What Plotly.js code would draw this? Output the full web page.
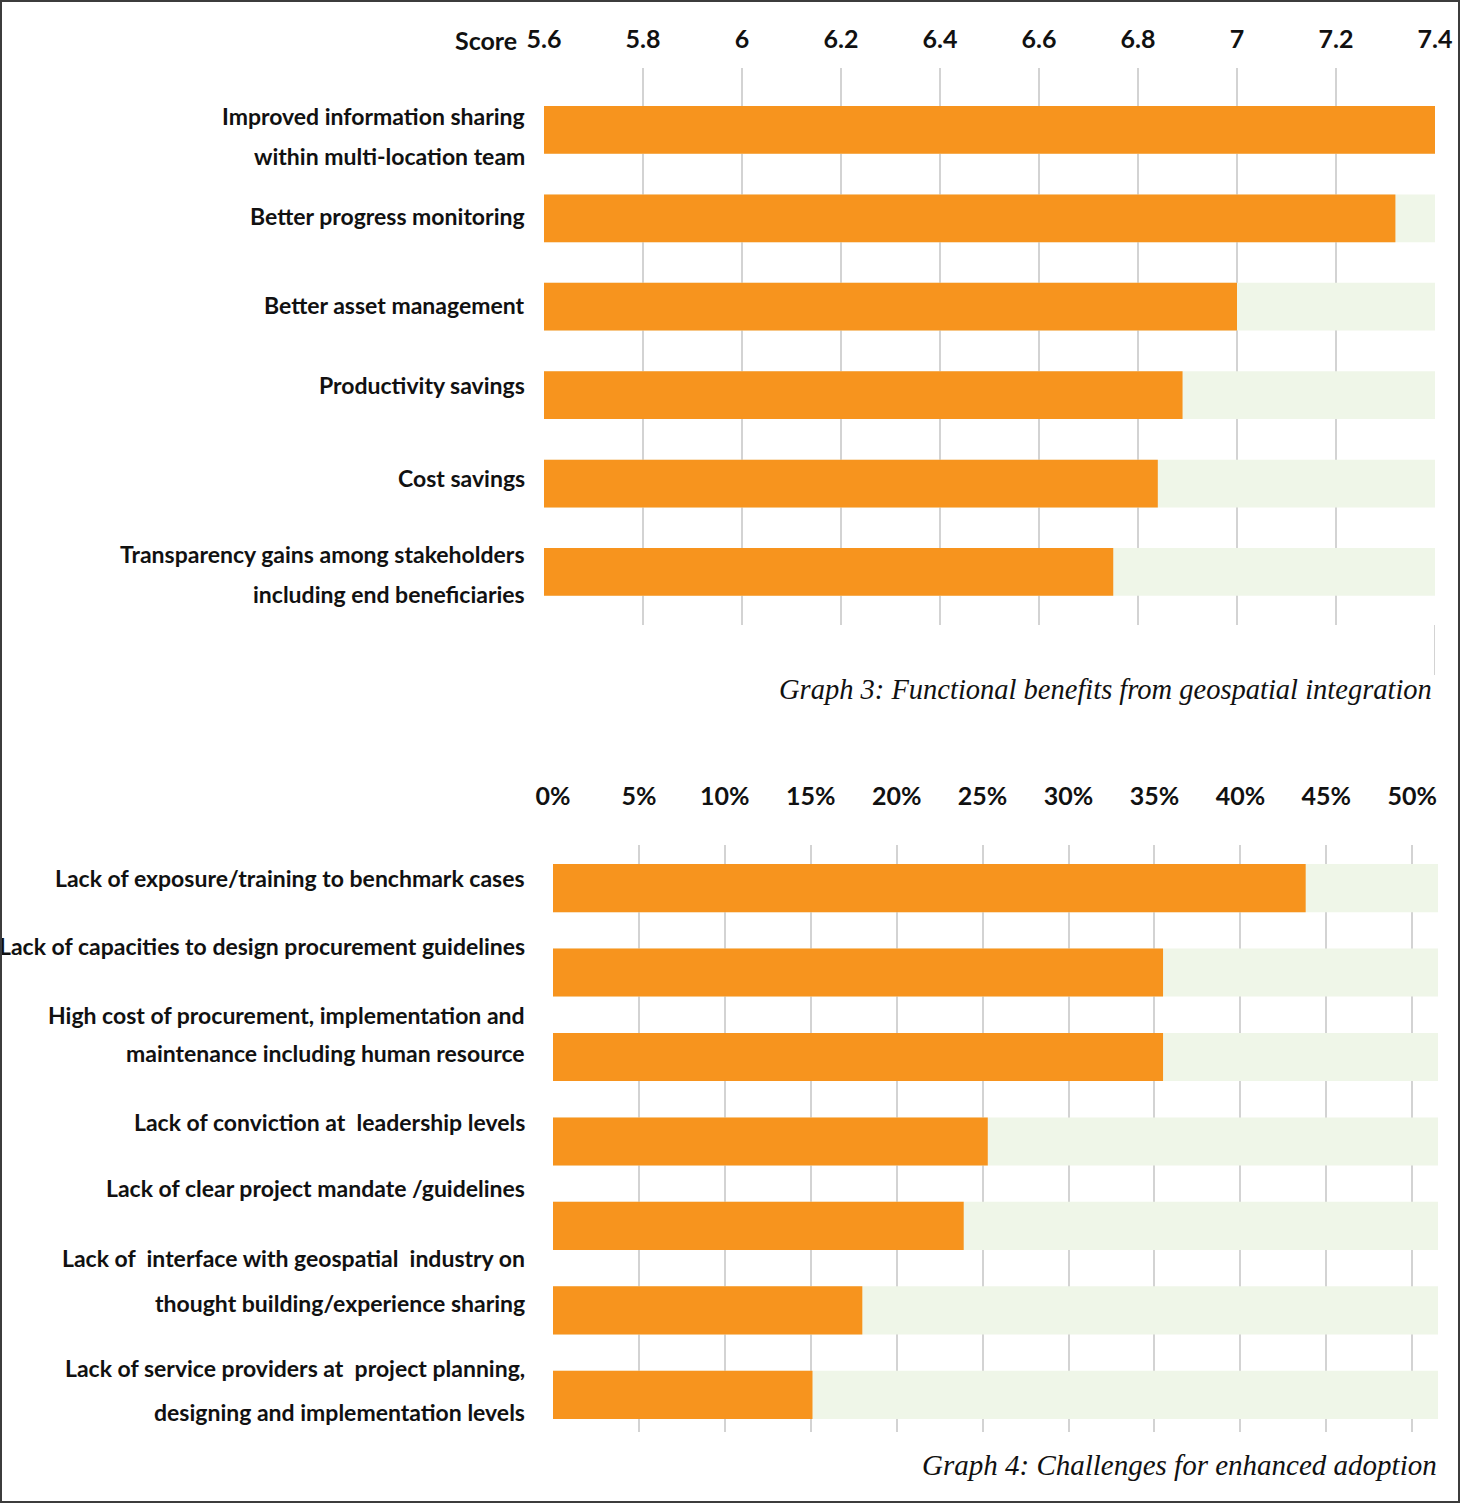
<!DOCTYPE html>
<html>
<head>
<meta charset="utf-8">
<script src="https://cdn.plot.ly/plotly-3.0.1.min.js"></script>
<style>
  html, body { margin: 0; padding: 0; background: #ffffff; }
  #wrap { position: relative; width: 1460px; height: 1503px; }
  #chart { width: 1460px; height: 1503px; }
  #frame { position: absolute; left: 0; top: 0; width: 1460px; height: 1503px; box-sizing: border-box; border: 2px solid #3c3c3c; pointer-events: none; }
</style>
</head>
<body>
<div id="wrap"><div id="chart"></div><div id="frame"></div></div>
<script>
// ---- Graph 3 data ----
const benefitCategories = [
  "Improved information sharing<br>within multi-location team",
  "Better progress monitoring",
  "Better asset management",
  "Productivity savings",
  "Cost savings",
  "Transparency gains among stakeholders<br>including end beneficiaries"
];
const benefitScores = [7.40, 7.32, 7.00, 6.89, 6.84, 6.75];
const benefitMax = 7.4;
const benefitTicks = [5.6, 5.8, 6.0, 6.2, 6.4, 6.6, 6.8, 7.0, 7.2, 7.4];
const benefitTickLabels = ["5.6", "5.8", "6", "6.2", "6.4", "6.6", "6.8", "7", "7.2", "7.4"];

// ---- Graph 4 data ----
const challengeCategories = [
  "Lack of exposure/training to benchmark cases",
  "Lack of capacities to design procurement guidelines",
  "High cost of procurement, implementation and<br>maintenance including human resource",
  "Lack of conviction at  leadership levels",
  "Lack of clear project mandate /guidelines",
  "Lack of  interface with geospatial  industry on<br>thought building/experience sharing",
  "Lack of service providers at  project planning,<br>designing and implementation levels"
];
const challengeShares = [0.438, 0.355, 0.355, 0.253, 0.239, 0.180, 0.151];
const challengeMax = 0.515;
const challengeTicks = [0, 0.05, 0.10, 0.15, 0.20, 0.25, 0.30, 0.35, 0.40, 0.45, 0.50];

// label placement (style only): upward lift in px of each category label, and line gaps
const benefitLabelLift = [-6, 2, 2, 10, 6, -2];
const benefitLineGap = [40, 0, 0, 0, 0, 40];
const challengeLabelLift = [10, 27, 23, 19, 38, 30, 5];
const challengeLineGap = [0, 0, 38, 0, 0, 45, 44];

const ORANGE = "#F7941E";
const PALE = "#EFF6E8";
const GRID = "#d3d3d3";
const LABEL_FONT = "Lato, Roboto, Liberation Sans, sans-serif";
const CAPTION_FONT = "Liberation Serif, DejaVu Serif, serif";

const W = 1460, H = 1503;
const px = v => v / W;
const py = v => 1 - v / H;

const traces = [
  { type: "bar", orientation: "h", y: benefitCategories, x: benefitCategories.map(() => benefitMax),
    marker: { color: PALE }, width: 0.54, xaxis: "x", yaxis: "y", hoverinfo: "skip", opacity: 1 },
  { type: "bar", orientation: "h", y: benefitCategories, x: benefitScores,
    marker: { color: ORANGE }, width: 0.54, xaxis: "x", yaxis: "y", opacity: 1 },
  { type: "bar", orientation: "h", y: challengeCategories, x: challengeCategories.map(() => challengeMax),
    marker: { color: PALE }, width: 0.57, xaxis: "x2", yaxis: "y2", hoverinfo: "skip", opacity: 1 },
  { type: "bar", orientation: "h", y: challengeCategories, x: challengeShares,
    marker: { color: ORANGE }, width: 0.57, xaxis: "x2", yaxis: "y2", opacity: 1 }
];

const tickFont = { family: LABEL_FONT, size: 25, color: "#111111", weight: "bold" };
const catFont = { family: LABEL_FONT, size: 23, color: "#111111", weight: "bold" };

const annotations = [
  { text: "Score", xref: "paper", yref: "paper", x: px(519), y: py(40), xanchor: "right", yanchor: "middle",
    showarrow: false, font: tickFont },
  { text: "Graph 3: Functional benefits from geospatial integration", xref: "paper", yref: "paper",
    x: px(1434), y: py(689), xanchor: "right", yanchor: "middle", showarrow: false,
    font: { family: CAPTION_FONT, size: 28.5, style: "italic", color: "#111111" } },
  { text: "Graph 4: Challenges for enhanced adoption", xref: "paper", yref: "paper",
    x: px(1439), y: py(1465), xanchor: "right", yanchor: "middle", showarrow: false,
    font: { family: CAPTION_FONT, size: 29, style: "italic", color: "#111111" } }
];

function addLabels(categories, lifts, gaps, yref) {
  categories.forEach((c, i) => {
    const lines = c.split("<br>");
    const n = lines.length;
    lines.forEach((line, j) => {
      annotations.push({
        text: line, xref: "paper", yref: yref, x: px(527), y: c,
        xanchor: "right", yanchor: "middle", align: "right", showarrow: false,
        yshift: lifts[i] + ((n - 1) / 2 - j) * gaps[i], font: catFont
      });
    });
  });
}
addLabels(benefitCategories, benefitLabelLift, benefitLineGap, "y");
addLabels(challengeCategories, challengeLabelLift, challengeLineGap, "y2");

const layout = {
  width: W, height: H,
  margin: { l: 0, r: 0, t: 0, b: 0 },
  paper_bgcolor: "#ffffff", plot_bgcolor: "#ffffff",
  showlegend: false,
  barmode: "overlay",
  xaxis: {
    domain: [px(544), px(1435)], range: [5.6, benefitMax], side: "top", anchor: "y",
    tickvals: benefitTicks, ticktext: benefitTickLabels, ticks: "",
    showgrid: true, gridcolor: GRID, gridwidth: 2, zeroline: false, showline: false,
    tickfont: tickFont, ticklabelstandoff: 14, automargin: false, fixedrange: true
  },
  yaxis: {
    domain: [py(625), py(68)], range: [5.6, -0.7], type: "category", anchor: "x",
    ticks: "", showgrid: false, zeroline: false, showline: false, showticklabels: false,
    automargin: false, fixedrange: true
  },
  xaxis2: {
    domain: [px(553), px(1438)], range: [0, challengeMax], side: "top", anchor: "y2",
    tickvals: challengeTicks, tickformat: ".0%", ticks: "",
    showgrid: true, gridcolor: GRID, gridwidth: 2, zeroline: false, showline: false,
    tickfont: tickFont, ticklabelstandoff: 34, automargin: false, fixedrange: true
  },
  yaxis2: {
    domain: [py(1432), py(845)], range: [6.44, -0.51], type: "category", anchor: "x2",
    ticks: "", showgrid: false, zeroline: false, showline: false, showticklabels: false,
    automargin: false, fixedrange: true
  },
  shapes: [
    { type: "line", xref: "x", yref: "paper", x0: benefitMax, x1: benefitMax, y0: py(675), y1: py(625),
      line: { color: GRID, width: 2 }, layer: "below" }
  ],
  annotations: annotations
};

Plotly.newPlot("chart", traces, layout, { displayModeBar: false, staticPlot: true });
</script>
</body>
</html>
